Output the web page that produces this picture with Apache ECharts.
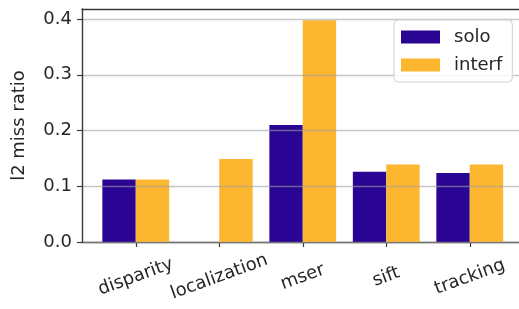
<!DOCTYPE html>
<html>
<head>
<meta charset="utf-8">
<script src="https://cdn.jsdelivr.net/npm/echarts@6/dist/echarts.min.js"></script>
<style>
  html, body { margin: 0; padding: 0; background: #fff; }
  #chart { width: 519px; height: 309px; }
</style>
</head>
<body>
<div id="chart"></div>
<script>
// values
const categories = ['disparity', 'localization', 'mser', 'sift', 'tracking']
const solo = [0.112, 0, 0.21, 0.126, 0.124]
const interf = [0.112, 0.149, 0.398, 0.139, 0.139]
const yTicks = [0, 0.1, 0.2, 0.3, 0.4]

const font = 'DejaVu Sans'
const textColor = '#262626'
const spine = { show: true, lineStyle: { color: '#3a3a3a', width: 1.4 } }

const chart = echarts.init(document.getElementById('chart'))

const option = {
  animation: false,
  textStyle: { fontFamily: font },
  legend: {
    orient: 'vertical',
    left: 394,
    top: 20,
    padding: [8, 10, 8, 7],
    icon: 'rect',
    itemWidth: 39,
    itemHeight: 13,
    itemGap: 10,
    backgroundColor: 'rgba(255,255,255,0.85)',
    borderColor: '#d0d0d0',
    borderWidth: 1,
    borderRadius: 4,
    z: 20,
    textStyle: { fontFamily: font, fontSize: 18, color: textColor, padding: [0, 0, 0, 9] },
    data: ['solo', 'interf']
  },
  grid: [
    // frame: spines, y ticks and grid lines
    { left: 82, right: -20, top: 9, bottom: 67 },
    // bars, laid out like matplotlib's x margins
    { left: 94, width: 417.5, top: 9, bottom: 67 }
  ],
  xAxis: [
    { gridIndex: 0, type: 'value', min: 0, max: 1, position: 'bottom',
      axisLine: spine, axisTick: { show: false }, axisLabel: { show: false }, splitLine: { show: false } },
    { gridIndex: 0, type: 'value', min: 0, max: 1, position: 'top',
      axisLine: spine, axisTick: { show: false }, axisLabel: { show: false }, splitLine: { show: false } },
    { gridIndex: 1, type: 'category', data: categories, position: 'bottom',
      axisLine: { show: false },
      axisTick: { show: true, alignWithLabel: true, length: 5, lineStyle: { color: '#3a3a3a', width: 1.2 } },
      axisLabel: { rotate: 20, align: 'center', verticalAlign: 'middle', margin: 35,
        fontSize: 18, color: textColor, fontFamily: font },
      splitLine: { show: false } }
  ],
  yAxis: [
    { gridIndex: 0, type: 'value', min: 0, max: 0.418, interval: 0.1, z: 10,
      name: 'l2 miss ratio', nameLocation: 'middle', nameGap: 54, nameRotate: 90,
      nameTextStyle: { fontSize: 18, color: textColor, fontFamily: font },
      axisLine: spine,
      axisTick: { show: true, length: 5, customValues: yTicks, lineStyle: { color: '#3a3a3a', width: 1.2 } },
      axisLabel: { customValues: yTicks, formatter: v => v.toFixed(1), margin: 10,
        fontSize: 18, color: textColor, fontFamily: font },
      splitLine: { show: true, lineStyle: { color: 'rgba(160,160,160,0.6)', width: 1.4 } } },
    { gridIndex: 1, type: 'value', min: 0, max: 0.418, show: false, splitLine: { show: false } }
  ],
  series: [
    { name: 'solo', type: 'bar', xAxisIndex: 2, yAxisIndex: 1, data: solo,
      barWidth: 33.4, barGap: '0%', itemStyle: { color: '#2a0593' } },
    { name: 'interf', type: 'bar', xAxisIndex: 2, yAxisIndex: 1, data: interf,
      barWidth: 33.4, barGap: '0%', itemStyle: { color: '#fdb62f' } }
  ]
}

chart.setOption(option)
</script>
</body>
</html>
